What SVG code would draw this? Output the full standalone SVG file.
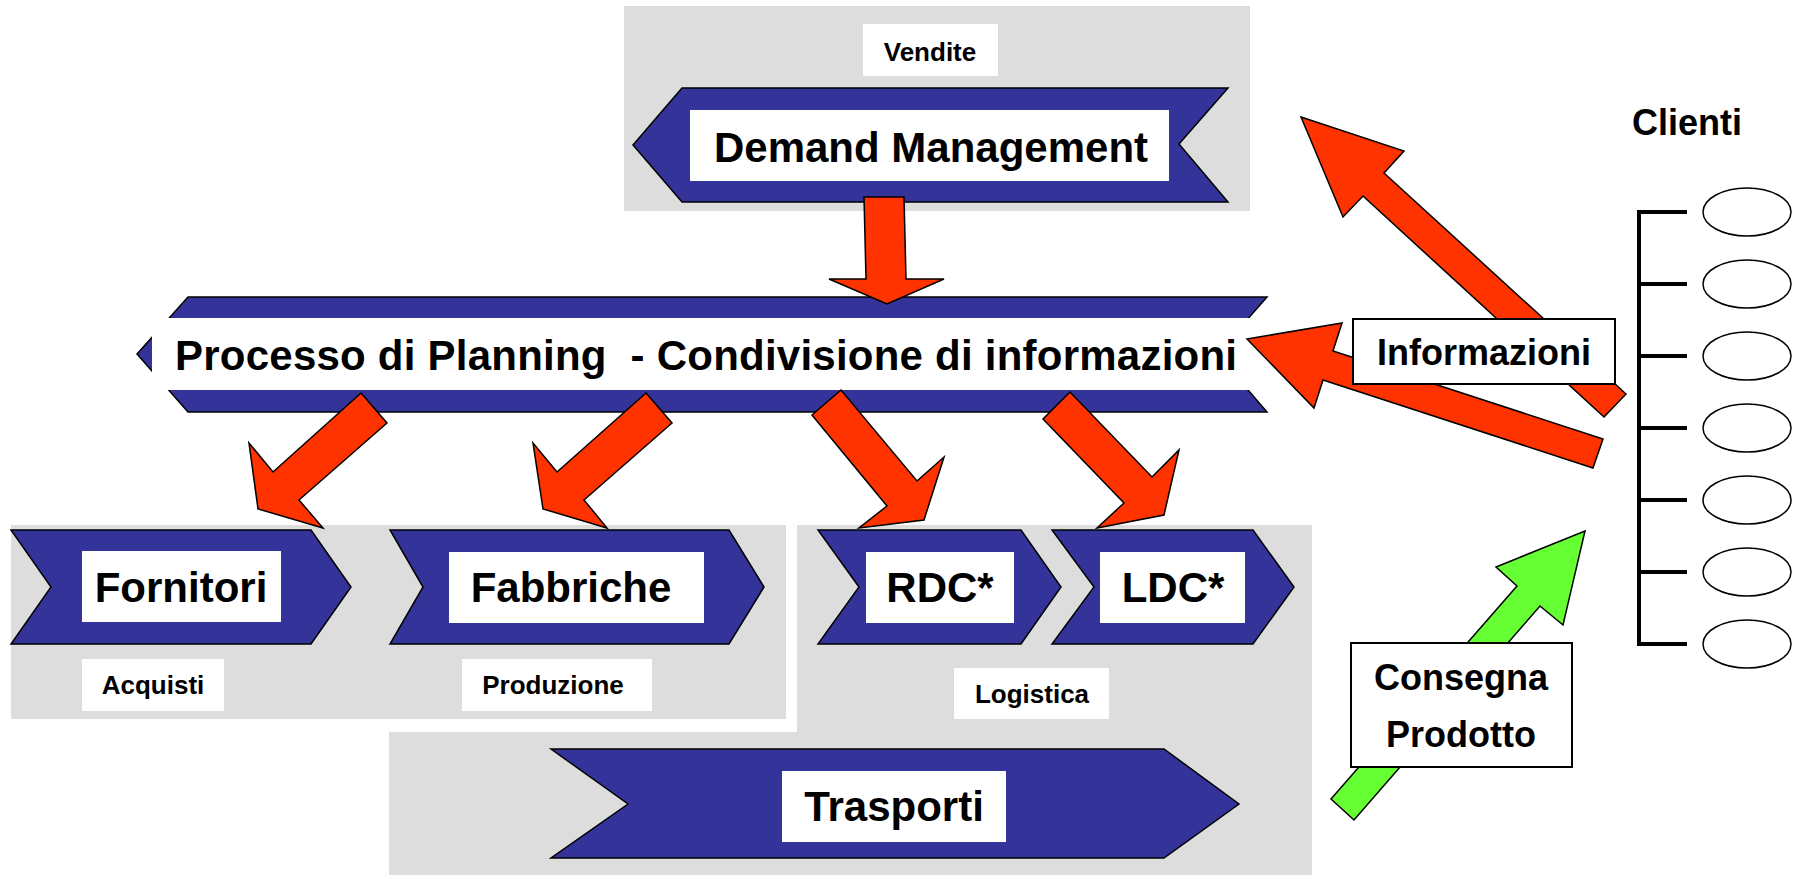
<svg xmlns="http://www.w3.org/2000/svg" width="1800" height="875" viewBox="0 0 1800 875">
<style>
.bg{fill:#DDDDDD}
.chev{fill:#333399;stroke:#000;stroke-width:1.5;stroke-linejoin:miter}
.wb{fill:#FFFFFF}
.lb{fill:#FFFFFF;stroke:#000;stroke-width:2}
.red{fill:#FF3300;stroke:#000;stroke-width:1.5;stroke-linejoin:miter}
.grn{fill:#66FF33;stroke:#000;stroke-width:1.5;stroke-linejoin:miter}
.t{font-family:"Liberation Sans",Arial,sans-serif;font-weight:bold;fill:#000}
.big{font-size:42px}
.mid{font-size:36px}
.sm{font-size:26px}
.br{stroke:#000;stroke-width:4;fill:none}
.cl{fill:#FFFFFF;stroke:#000;stroke-width:1.5}
</style>
<rect width="1800" height="875" fill="#FFFFFF"/>

<g id="area-vendite">
<rect class="bg" x="624" y="6" width="626" height="205"/>
<rect class="wb" x="863" y="24" width="135" height="52"/>
<text class="t sm" x="930" y="61" text-anchor="middle">Vendite</text>
</g>

<g id="area-acquisti-produzione">
<rect class="bg" x="11" y="525" width="775" height="194"/>
</g>
<g id="area-logistica">
<rect class="bg" x="797" y="525" width="515" height="350"/>
<rect class="bg" x="389" y="732" width="923" height="143"/>
</g>

<g id="demand-management">
<polygon class="chev" points="682,88 1228,88 1179,144 1228,202 682,202 633,145"/>
<rect class="wb" x="690" y="110" width="479" height="71"/>
<text class="t big" x="931" y="162" text-anchor="middle">Demand Management</text>
</g>

<g id="planning">
<polygon class="chev" points="188,297 1267,297 1217,354 1267,412 188,412 137,354"/>
<rect class="wb" x="152" y="318" width="1100" height="72"/>
<text class="t big" x="175" y="370" xml:space="preserve" style="white-space:pre" textLength="1062" lengthAdjust="spacing">Processo di Planning  - Condivisione di informazioni</text>
</g>

<g id="fornitori">
<polygon class="chev" points="11,530 311,530 351,587 311,644 11,644 51,587"/>
<rect class="wb" x="82" y="551" width="199" height="71"/>
<text class="t big" x="181" y="602" text-anchor="middle">Fornitori</text>
<rect class="wb" x="82" y="659" width="142" height="52"/>
<text class="t sm" x="153" y="694" text-anchor="middle">Acquisti</text>
</g>

<g id="fabbriche">
<polygon class="chev" points="390,530 729,530 764,587 729,644 390,644 423,587"/>
<rect class="wb" x="449" y="552" width="255" height="71"/>
<text class="t big" x="571" y="602" text-anchor="middle">Fabbriche</text>
<rect class="wb" x="462" y="659" width="190" height="52"/>
<text class="t sm" x="553" y="694" text-anchor="middle">Produzione</text>
</g>

<g id="rdc">
<polygon class="chev" points="818,530 1021,530 1061,587 1021,644 818,644 859,587"/>
<rect class="wb" x="866" y="552" width="148" height="71"/>
<text class="t big" x="940" y="602" text-anchor="middle">RDC*</text>
</g>

<g id="ldc">
<polygon class="chev" points="1052,530 1253,530 1294,587 1253,644 1052,644 1094,587"/>
<rect class="wb" x="1100" y="552" width="145" height="71"/>
<text class="t big" x="1173" y="602" text-anchor="middle">LDC*</text>
</g>

<g id="logistica-label">
<rect class="wb" x="954" y="668" width="155" height="51"/>
<text class="t sm" x="1032" y="703" text-anchor="middle">Logistica</text>
</g>

<g id="trasporti">
<polygon class="chev" points="551,749 1164,749 1239,804 1164,858 551,858 628,804"/>
<rect class="wb" x="782" y="771" width="224" height="71"/>
<text class="t big" x="894" y="821" text-anchor="middle">Trasporti</text>
</g>

<g id="clienti">
<text class="t mid" x="1632" y="135">Clienti</text>
<path class="br" d="M1639,210 V646 M1637,212 H1687 M1637,284 H1687 M1637,356 H1687 M1637,428 H1687 M1637,500 H1687 M1637,572 H1687 M1637,644 H1687"/>
<ellipse class="cl" cx="1747" cy="212" rx="44" ry="24"/>
<ellipse class="cl" cx="1747" cy="284" rx="44" ry="24"/>
<ellipse class="cl" cx="1747" cy="356" rx="44" ry="24"/>
<ellipse class="cl" cx="1747" cy="428" rx="44" ry="24"/>
<ellipse class="cl" cx="1747" cy="500" rx="44" ry="24"/>
<ellipse class="cl" cx="1747" cy="572" rx="44" ry="24"/>
<ellipse class="cl" cx="1747" cy="644" rx="44" ry="24"/>
</g>

<g id="connectors">
<polygon class="red" points="864,197 904,197 906,279 944,279 887,304 829,279 866,279"/>
<polygon class="red" points="361,393 387,423 299,500 323,528 258,509 249,443 273,472"/>
<polygon class="red" points="646,393 672,423 584,500 607,528 543,509 533,443 557,472"/>
<polygon class="red" points="841,390 812,415 887,506 859,528 924,520 944,457 917,481"/>
<polygon class="red" points="1070,392 1043,419 1124,503 1097,528 1164,515 1179,450 1152,477"/>
<polygon class="red" points="1301,117 1404,151 1384,173 1626,394 1604,417 1363,196 1343,217"/>
<polygon class="red" points="1247,339 1342,323 1333,351 1603,439 1593,468 1323,380 1314,408"/>
<polygon class="grn" points="1331,799 1517,586 1496,567 1585,531 1563,625 1540,606 1354,820"/>
</g>

<g id="informazioni">
<rect class="lb" x="1353" y="319" width="262" height="65"/>
<text class="t mid" x="1484" y="365" text-anchor="middle">Informazioni</text>
</g>

<g id="consegna">
<rect class="lb" x="1351" y="643" width="221" height="124"/>
<text class="t mid" x="1461" y="690" text-anchor="middle">Consegna</text>
<text class="t mid" x="1461" y="747" text-anchor="middle">Prodotto</text>
</g>
</svg>
